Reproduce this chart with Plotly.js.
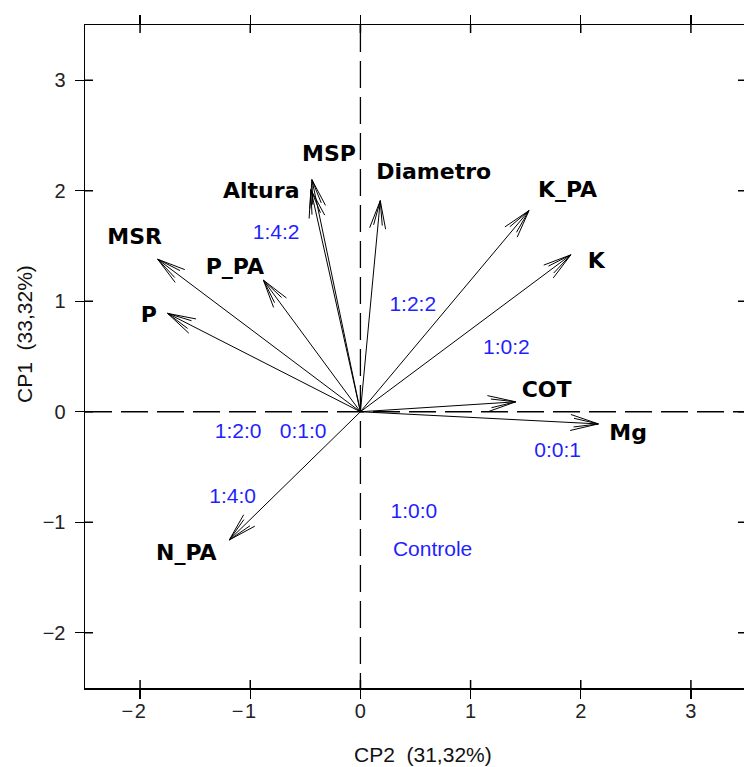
<!DOCTYPE html>
<html>
<head>
<meta charset="utf-8">
<script src="https://cdn.plot.ly/plotly-3.0.1.min.js"></script>
<style>
  html, body { margin: 0; padding: 0; overflow: hidden; background: #fff; }
</style>
</head>
<body>
<div id="chart"></div>
<script>
// Loadings of each variable on CP2 (horizontal) and CP1 (vertical)
const variables = ['MSR', 'P', 'P_PA', 'Altura', 'MSP', 'Diametro', 'K_PA', 'K', 'COT', 'Mg', 'N_PA'];
const cp2Load   = [-1.84, -1.75, -0.88, -0.45, -0.44, 0.18, 1.53, 1.91, 1.41, 2.16, -1.19];
const cp1Load   = [ 1.38,  0.89,  1.19,  2.01,  2.10, 1.91, 1.82, 1.42, 0.09, -0.11, -1.16];

// Where each variable name sits
const varLabelX = [-2.05, -1.92, -1.14, -0.90, -0.285, 0.665, 1.88, 2.14, 1.69, 2.43, -1.58];
const varLabelY = [ 1.57,  0.86,  1.30,  1.98,  2.32,  2.16,  1.99, 1.35, 0.18, -0.21, -1.29];

// Treatment (N:P:K ratio) labels
const treatments = ['1:4:2', '1:2:2', '1:0:2', '0:0:1', '1:2:0', '0:1:0', '1:4:0', '1:0:0', 'Controle'];
const treatX     = [-0.765, 0.475, 1.325, 1.79, -1.11, -0.52, -1.16, 0.485, 0.655];
const treatY     = [ 1.61,  0.96,  0.57, -0.36, -0.19, -0.19, -0.78, -0.91, -1.26];

const xRange = [-2.5, 3.5];
const yRange = [-2.5, 3.5];
const tickVals = [-2, -1, 0, 1, 2, 3];
// negative x labels keep the digit on the tick, the minus hangs to the left
const xTickText = tickVals.map(v => v < 0 ? '\u2212\u200a' + Math.abs(v) + '\u2007\u200a' : String(v));

const W = 748, H = 767;
const M = { l: 85, r: 2, t: 25, b: 79 };
const kx = (W - M.l - M.r) / (xRange[1] - xRange[0]); // px per unit
const ky = (H - M.t - M.b) / (yRange[1] - yRange[0]);

// Shafts and open arrowheads, computed in pixel space then mapped back to data units
const ax = [], ay = [];
const barbs = [[16, 29], [10, 25]]; // [half-angle deg, length px]
for (let i = 0; i < variables.length; i++) {
  const tx = cp2Load[i], ty = cp1Load[i];
  ax.push(0, tx, null);
  ay.push(0, ty, null);
  const px = tx * kx, py = ty * ky;
  const len = Math.hypot(px, py);
  const bx = -px / len, by = -py / len;
  for (const [deg, L] of barbs) {
    for (const s of [1, -1]) {
      const a = s * deg * Math.PI / 180;
      const rx = bx * Math.cos(a) - by * Math.sin(a);
      const ry = bx * Math.sin(a) + by * Math.cos(a);
      ax.push(tx, (px + rx * L) / kx, null);
      ay.push(ty, (py + ry * L) / ky, null);
    }
  }
}

// Inner halves of the tick marks (8 px into the frame on all four sides)
const inX = 8 / kx, inY = 8 / ky;
const tkx = [], tky = [];
tickVals.forEach(v => {
  tkx.push(v, v, null, v, v, null);
  tky.push(yRange[0], yRange[0] + inY, null, yRange[1], yRange[1] - inY, null);
  tkx.push(xRange[0], xRange[0] + inX, null, xRange[1], xRange[1] - inX, null);
  tky.push(v, v, null, v, v, null);
});

const traces = [
  {
    x: ax, y: ay, mode: 'lines', type: 'scatter',
    line: { color: '#000', width: 1 },
    hoverinfo: 'skip', showlegend: false
  },
  {
    x: tkx, y: tky, mode: 'lines', type: 'scatter',
    line: { color: '#000', width: 1.5 },
    hoverinfo: 'skip', showlegend: false
  },
  {
    x: varLabelX, y: varLabelY, text: variables, mode: 'text', type: 'scatter',
    textfont: { family: 'DejaVu Sans', size: 22, color: '#000', weight: 'bold' },
    textposition: 'middle center', hoverinfo: 'skip', showlegend: false
  },
  {
    x: treatX, y: treatY, text: treatments, mode: 'text', type: 'scatter',
    textfont: { family: 'Liberation Sans, Arial', size: 21, color: '#1f1fff' },
    textposition: 'middle center', hoverinfo: 'skip', showlegend: false
  }
];

const tickFont = { family: 'Liberation Sans, Arial', size: 20, color: '#222' };

const layout = {
  width: W, height: H,
  margin: M,
  paper_bgcolor: '#fff', plot_bgcolor: '#fff',
  showlegend: false,
  xaxis: {
    range: xRange, tickvals: tickVals, ticktext: xTickText, ticks: 'outside', ticklen: 9,
    tickwidth: 1.3, tickcolor: '#000', showline: true, linecolor: '#000', linewidth: 1.5,
    mirror: 'ticks', showgrid: false, zeroline: false, tickfont: tickFont,
    ticklabelstandoff: -5
  },
  yaxis: {
    range: yRange, tickvals: tickVals, ticks: 'outside', ticklen: 9, tickwidth: 1.3,
    tickcolor: '#000', showline: true, linecolor: '#000', linewidth: 1.5, mirror: 'ticks',
    showgrid: false, zeroline: false, tickfont: tickFont, ticklabelstandoff: 5
  },
  shapes: [
    { type: 'line', xref: 'paper', yref: 'y', x0: 0, x1: 1, y0: 0, y1: 0,
      line: { color: '#000', width: 1.3, dash: '27px,9px' } },
    { type: 'line', xref: 'x', yref: 'paper', x0: 0, x1: 0, y0: 1, y1: 0,
      line: { color: '#000', width: 1.3, dash: '27px,9px' } }
  ],
  annotations: [
    { text: 'CP2  (31,32%)', xref: 'paper', yref: 'paper', x: 0.511, y: -0.101,
      xanchor: 'center', yanchor: 'middle', showarrow: false,
      font: { family: 'Liberation Sans, Arial', size: 21, color: '#111' } },
    { text: 'CP1  (33,32%)', xref: 'paper', yref: 'paper', x: -0.0908, y: 0.534,
      xanchor: 'center', yanchor: 'middle', showarrow: false, textangle: -90,
      font: { family: 'Liberation Sans, Arial', size: 21, color: '#111' } }
  ]
};

Plotly.newPlot('chart', traces, layout, { staticPlot: true, displayModeBar: false });
</script>
</body>
</html>
